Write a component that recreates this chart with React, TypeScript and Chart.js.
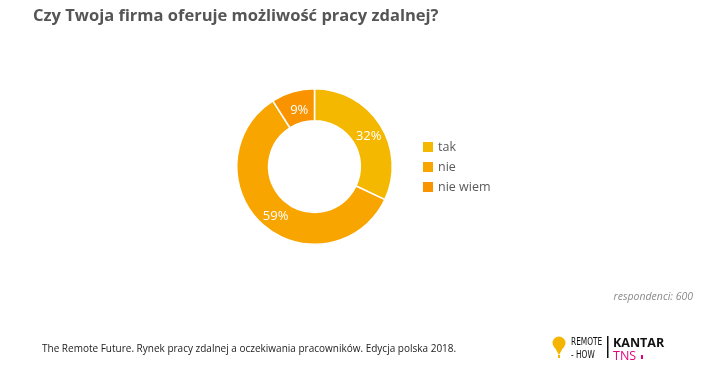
import React, { useEffect, useRef } from "react";
import { Chart, registerables } from "chart.js";

Chart.register(...registerables);

const TITLE = "Czy Twoja firma oferuje możliwość pracy zdalnej?";
const categories = ["tak", "nie", "nie wiem"];
const shares = [32, 59, 9];
const sliceColors = ["#F5B800", "#F8A500", "#F99400"];
const sampleNote = "respondenci: 600";
const sourceNote =
  "The Remote Future. Rynek pracy zdalnej a oczekiwania pracowników. Edycja polska 2018.";

const FONT = "'Open Sans', 'DejaVu Sans', sans-serif";

// Title, percentage labels, legend, notes and logos drawn on the chart canvas
const decorations = {
  id: "decorations",
  afterDatasetsDraw(chart: any) {
    const ctx = chart.ctx as CanvasRenderingContext2D;
    const meta = chart.getDatasetMeta(0);
    ctx.save();

    // slice labels
    ctx.fillStyle = "#ffffff";
    ctx.font = `13px ${FONT}`;
    ctx.textAlign = "center";
    ctx.textBaseline = "middle";
    meta.data.forEach((arc: any, i: number) => {
      const p = arc.tooltipPosition();
      ctx.fillText(`${shares[i]}%`, p.x + 2, p.y + 3);
    });

    // legend
    ctx.textAlign = "left";
    ctx.font = `12.5px ${FONT}`;
    categories.forEach((c, i) => {
      const y = 147 + i * 20;
      ctx.fillStyle = sliceColors[i];
      ctx.fillRect(423, y - 5, 10, 10);
      ctx.fillStyle = "#5a5a5a";
      ctx.fillText(c, 438, y);
    });

    // title
    ctx.fillStyle = "#555555";
    ctx.font = `bold 16.5px ${FONT}`;
    ctx.textBaseline = "alphabetic";
    ctx.fillText(TITLE, 33, 21);

    // sample size
    ctx.fillStyle = "#8a8a8a";
    ctx.font = `italic 10.5px ${FONT}`;
    ctx.textAlign = "right";
    ctx.fillText(sampleNote, 693, 300);

    // source
    ctx.fillStyle = "#222222";
    ctx.font = `10px ${FONT}`;
    ctx.textAlign = "left";
    ctx.fillText(sourceNote, 42, 352);

    // REMOTE-HOW balloon
    ctx.fillStyle = "#F5B400";
    ctx.beginPath();
    ctx.arc(559, 343, 6.5, 0, Math.PI * 2);
    ctx.fill();
    ctx.beginPath();
    ctx.moveTo(554, 346);
    ctx.lineTo(559, 355);
    ctx.lineTo(564, 346);
    ctx.fill();
    ctx.fillRect(558, 355, 2, 3);

    ctx.fillStyle = "#111111";
    ctx.save();
    ctx.translate(571, 0);
    ctx.scale(0.75, 1);
    ctx.font = `11px 'DejaVu Sans Condensed', 'Liberation Sans Narrow', sans-serif`;
    ctx.fillText("REMOTE", 0, 345);
    ctx.fillText("- HOW", 0, 358);
    ctx.restore();
    ctx.fillRect(607, 336, 1.5, 22);

    ctx.font = `bold 12.5px ${FONT}`;
    ctx.fillText("KANTAR", 613, 347);
    ctx.fillStyle = "#E5007E";
    ctx.font = `12.5px ${FONT}`;
    ctx.fillText("TNS", 613, 360);
    ctx.fillRect(641, 355, 2, 4);
    ctx.restore();
  },
};

export default function App() {
  const ref = useRef<HTMLCanvasElement>(null);

  useEffect(() => {
    if (!ref.current) return;
    const chart = new Chart(ref.current, {
      type: "doughnut",
      data: {
        labels: categories,
        datasets: [
          {
            data: shares,
            backgroundColor: sliceColors,
            borderColor: "#ffffff",
            borderWidth: 1.5,
          },
        ],
      },
      options: {
        animation: false,
        responsive: false,
        cutout: "59%",
        layout: { padding: { left: 236, right: 330, top: 88, bottom: 133 } },
        plugins: {
          legend: { display: false },
          tooltip: { enabled: false },
        },
      },
      plugins: [decorations],
    });
    return () => chart.destroy();
  }, []);

  return (
    <div style={{ width: 723, height: 378, background: "#fff" }}>
      <style>{"body{margin:0}"}</style>
      <canvas ref={ref} width={723} height={378} />
    </div>
  );
}
